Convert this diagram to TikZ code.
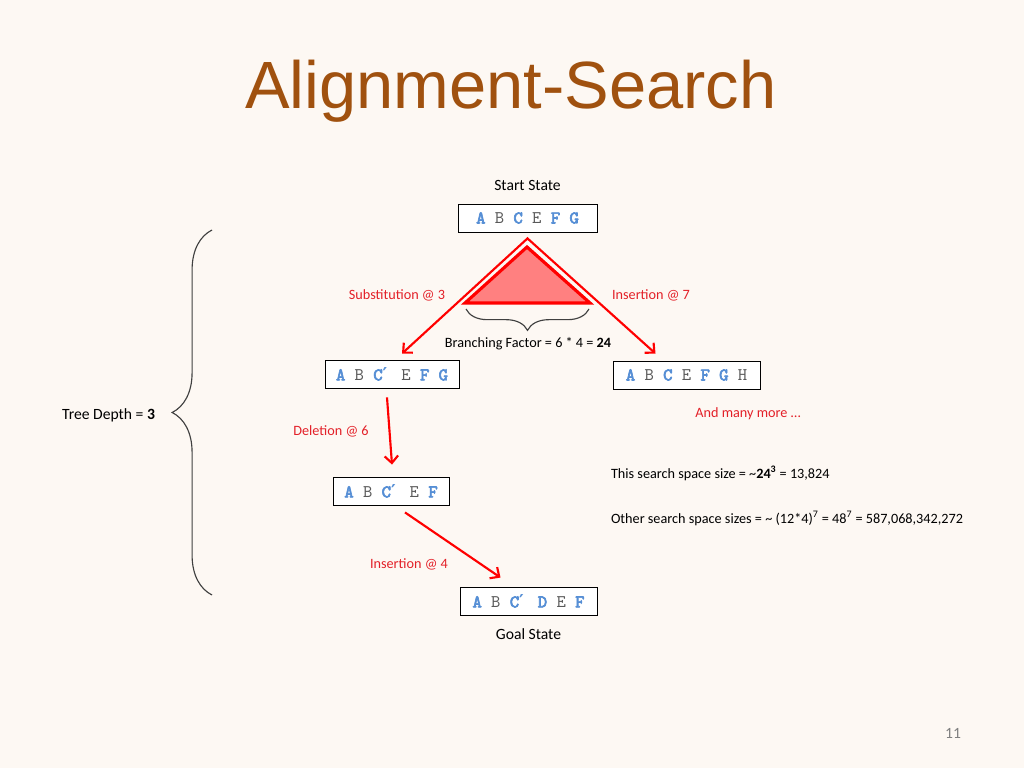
\documentclass[tikz,border=0pt]{standalone}
\usepackage{fontspec}
\setmainfont{Carlito}
\setmonofont{lmmono10-regular.otf}[BoldFont=lmmono10-regular.otf, BoldFeatures={FakeBold=3.5}]
\newfontfamily\titlefont{Liberation Sans}
\newfontfamily\primefont{DejaVu Sans}
\usetikzlibrary{positioning, calc, arrows.meta, decorations.pathreplacing}
\definecolor{slideBg}{HTML}{FDF8F3}
\definecolor{titleBrown}{HTML}{A0510F}
\definecolor{editRed}{HTML}{E32028}
\definecolor{charBlue}{HTML}{558ED5}
\definecolor{charGray}{HTML}{595959}
\definecolor{triFill}{HTML}{FF8080}
\definecolor{braceGray}{HTML}{404040}
\newcommand{\kc}[1]{\textcolor{charBlue}{\textbf{#1}}}
\newcommand{\oc}[1]{\textcolor{charGray}{#1}}
\newcommand{\pr}{\makebox[0.525em][l]{\primefont\bfseries ′}}

\begin{document}
\begin{tikzpicture}[x=0.703125pt, y=-0.703125pt,
  state/.style={draw, fill=white, line width=0.6pt, inner sep=0pt, minimum height=19.7pt, font=\ttfamily\fontsize{12.5}{14}\selectfont},
  lbl/.style={font=\fontsize{11}{13}\selectfont, anchor=base},
  small/.style={lbl, font=\fontsize{10}{12}\selectfont},
  edit/.style={small, text=editRed},
  arr/.style={-{Straight Barb[length=5pt, width=9.5pt]}, line width=1.5pt, draw=red},
  curly/.style={decorate, draw=braceGray, line width=0.8pt}
]
\fill[slideBg] (0,0) rectangle (1024,768);
\useasboundingbox (0,0) rectangle (1024,768);

\node[font=\titlefont\fontsize{47}{50}\selectfont, text=titleBrown, anchor=base] (title) at (511,109) {Alignment-Search};

\node[state, minimum width=97.7pt] (start) at (527.5,218) {\kc{A} \oc{B} \kc{C} \oc{E} \kc{F} \kc{G}};
\node[state, minimum width=94.2pt] (sub) at (392,374) {\kc{A} \oc{B} \kc{C\pr} \oc{E} \kc{F} \kc{G}};
\node[state, minimum width=103.4pt] (ins) at (686.5,375) {\kc{A} \oc{B} \kc{C} \oc{E} \kc{F} \kc{G} \oc{H}};
\node[state, minimum width=81.6pt] (del) at (391,491) {\kc{A} \oc{B} \kc{C\pr} \oc{E} \kc{F}};
\node[state, minimum width=96.3pt] (goal) at (528.5,601) {\kc{A} \oc{B} \kc{C\pr} \kc{D} \oc{E} \kc{F}};

\node[lbl, anchor=south, above=5.5pt of start] (startlbl) {Start State};
\node[lbl, anchor=north, below=5.5pt of goal] (goallbl) {Goal State};

\node[edit] (sublbl) at (397,300) {Substitution @ 3};
\node[edit] (inslbl) at (651,300) {Insertion @ 7};
\node[edit] (dellbl) at (331,435) {Deletion @ 6};
\node[edit] (ins4lbl) at (409,568) {Insertion @ 4};
\node[edit] (morelbl) at (748,417) {And many more …};

\node[small] (branch) at (528,348) {Branching Factor = 6 * 4 = \textbf{24}};
\node[small, anchor=base west] (thisspace) at (606,478) {This search space size = \textasciitilde\textbf{24\textsuperscript{3}} = 13,824};
\node[small, anchor=base west] (otherspace) at (606,523) {Other search space sizes = \textasciitilde{} (12*4)\textsuperscript{7} = 48\textsuperscript{7} = 587,068,342,272};
\node[lbl, anchor=base east] (depth) at (160,419) {Tree Depth = \textbf{3}};
\node[lbl, text=gray] (pagenum) at (953,738) {11};

\filldraw[draw=red, fill=triFill, line width=2.2pt] (527,247) -- (590,303) -- (465,303) -- cycle;
\draw[curly, decoration={brace, amplitude=15pt}] (589,309) -- (466,309);
\draw[curly, decoration={brace, amplitude=28pt}] (212,595) -- (212,230);

\draw[arr, {Straight Barb[length=5pt, width=9.5pt]}-{Straight Barb[length=5pt, width=9.5pt]}] ($(sub.north)+(10,-6)$) -- ($(start.south)+(0,6)$) -- ($(ins.north)+(-31,-7)$);
\draw[arr] ($(sub.south)+(-5,9)$) -- ($(del.north)+(1,-12)$);
\draw[arr] ($(del.south)+(14,7)$) -- ($(goal.north)+(-28,-9)$);
\end{tikzpicture}
\end{document}
